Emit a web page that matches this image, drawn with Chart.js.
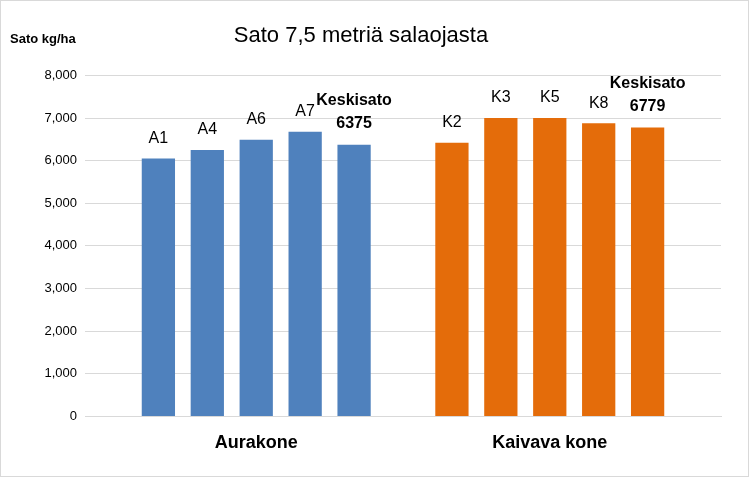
<!DOCTYPE html>
<html>
<head>
<meta charset="utf-8">
<script src="https://cdn.jsdelivr.net/npm/chart.js@4"></script>
<style>
  html, body { margin: 0; padding: 0; background: #fff; }
  #wrap { width: 747px; height: 475px; border: 1px solid #d9d9d9; position: relative; }
</style>
</head>
<body>
<div id="wrap"><canvas id="c" width="747" height="475"></canvas></div>
<script>
// --- Data ---
const categories = ['', 'A1', 'A4', 'A6', 'A7', 'Keskisato', '', 'K2', 'K3', 'K5', 'K8', 'Keskisato', ''];
const yields = [null, 6050, 6250, 6490, 6680, 6375, null, 6420, 7000, 7000, 6880, 6779, null];
const groupLabels = { 3: 'Aurakone', 9: 'Kaivava kone' };
const barColors = ['', '#4f81bd', '#4f81bd', '#4f81bd', '#4f81bd', '#4f81bd', '',
    '#e46c0a', '#e46c0a', '#e46c0a', '#e46c0a', '#e46c0a', ''];

const FONT = '"Liberation Sans", Arial, sans-serif';

// Labels above bars
const barLabels = {
    id: 'barLabels',
    afterDatasetsDraw(chart) {
        const ctx = chart.ctx;
        const meta = chart.getDatasetMeta(0);
        ctx.save();
        ctx.fillStyle = '#000';
        ctx.textAlign = 'center';
        ctx.textBaseline = 'bottom';
        meta.data.forEach((bar, i) => {
            const v = yields[i];
            if (v === null) return;
            if (categories[i] === 'Keskisato') {
                ctx.font = 'bold 16px ' + FONT;
                ctx.fillText(categories[i], bar.x, bar.y - 36);
                ctx.fillText(String(v), bar.x, bar.y - 13);
            } else {
                ctx.font = '16px ' + FONT;
                ctx.fillText(categories[i], bar.x, bar.y - 12);
            }
        });
        // axis title
        ctx.font = 'bold 13px ' + FONT;
        ctx.textAlign = 'left';
        ctx.textBaseline = 'middle';
        ctx.fillText('Sato kg/ha', 9, 38);
        ctx.restore();
    }
};

new Chart(document.getElementById('c'), {
    type: 'bar',
    data: {
        labels: categories,
        datasets: [{
            data: yields,
            backgroundColor: barColors,
            categoryPercentage: 1,
            barPercentage: 0.68
        }]
    },
    plugins: [barLabels],
    options: {
        responsive: false,
        animation: false,
        layout: { padding: { top: 0, right: 27, bottom: 14, left: 0 } },
        plugins: {
            legend: { display: false },
            tooltip: { enabled: false },
            title: {
                display: true,
                text: 'Sato 7,5 metriä salaojasta',
                color: '#000',
                font: { family: FONT, size: 22, weight: 'normal' },
                padding: { top: 22, bottom: 26 }
            }
        },
        scales: {
            y: {
                min: 0, max: 8000,
                ticks: { stepSize: 1000, color: '#000', font: { family: FONT, size: 13 }, padding: 8 },
                grid: { color: '#d9d9d9', drawTicks: false },
                border: { display: false },
                afterFit(s) { s.width = 84; }
            },
            x: {
                grid: { display: false },
                border: { color: '#d9d9d9' },
                ticks: {
                    autoSkip: false, maxRotation: 0, color: '#000',
                    font: { family: FONT, size: 18, weight: 'bold' },
                    padding: 8,
                    callback: (v, i) => groupLabels[i] || ''
                }
            }
        }
    }
});
</script>
</body>
</html>
